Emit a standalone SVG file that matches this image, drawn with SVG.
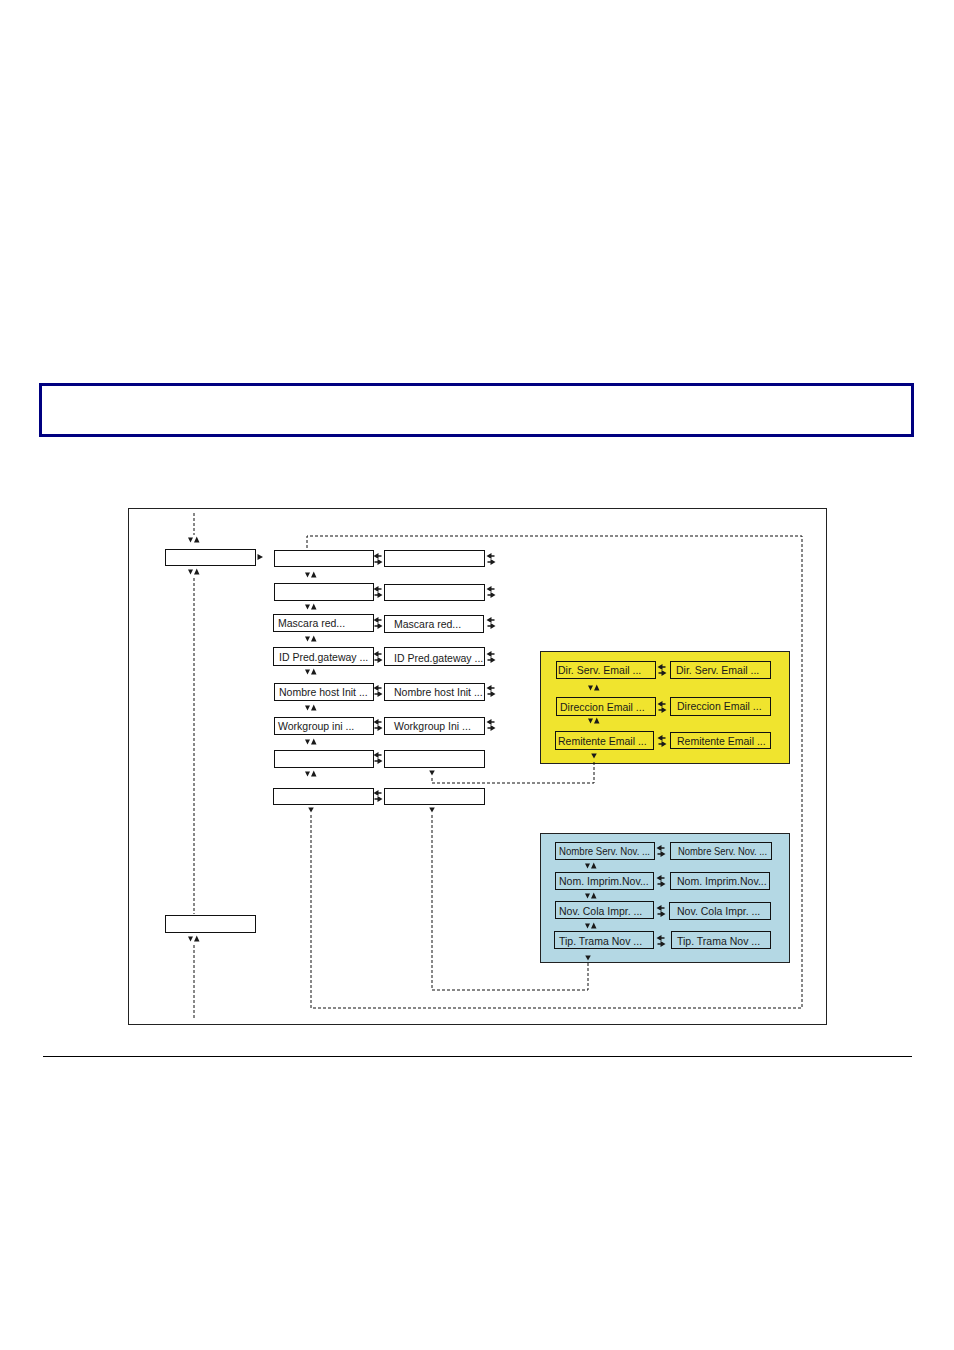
<svg xmlns="http://www.w3.org/2000/svg" xmlns:xlink="http://www.w3.org/1999/xlink" width="954" height="1350" viewBox="0 0 954 1350">
<style>
.box{fill:#fff;stroke:#111;stroke-width:1}
.ybox{fill:#f0e42e;stroke:#111;stroke-width:1}
.bbox{fill:#b4d8e4;stroke:#111;stroke-width:1}
.panel-y{fill:#f0e42e;stroke:#222;stroke-width:1}
.panel-b{fill:#b4d8e4;stroke:#222;stroke-width:1}
.t{font-family:"Liberation Sans",Arial,sans-serif;font-size:10.5px;fill:#1a1a1a}
.dash{fill:none;stroke:#111;stroke-width:1;stroke-dasharray:3,2}
.ah{fill:#1a1a1a}
.stem{stroke:#1a1a1a;stroke-width:1.5}
</style>
<defs>
<g id="vpair"><path class="ah" d="M-6,-2.5 h5 l-2.5,5 z M0,2.5 h5.5 l-2.75,-6 z"/></g>
<g id="hpair"><path class="ah" d="M-4.5,-3 L0.5,-6 L0.5,0 z M4.5,3 L-0.5,0 L-0.5,6 z"/><path class="stem" d="M0,-3 h3.5 M-3.5,3 h3.5"/></g>
<g id="down"><path class="ah" d="M-2.75,-2.5 h5.5 l-2.75,5 z"/></g>
<g id="right"><path class="ah" d="M-2.5,-3 L3,0 L-2.5,3 z"/></g>
</defs>

<rect id="header" x="40.5" y="384.5" width="872" height="51" fill="#fff" stroke="#000080" stroke-width="3"/>
<line x1="43" y1="1056.5" x2="912" y2="1056.5" stroke="#000" stroke-width="1"/>
<rect id="frame" x="128.5" y="508.5" width="698" height="516" fill="none" stroke="#222" stroke-width="1"/>

<g id="panels">
<rect class="panel-y" x="540.5" y="651.5" width="249" height="112"/>
<rect class="panel-b" x="540.5" y="833.5" width="249" height="129"/>
</g>

<g id="connectors">
<path class="dash" d="M194,513 V535"/>
<path class="dash" d="M194,578 V914"/>
<path class="dash" d="M194,945 V1020"/>
<path class="dash" d="M307,548 V536 H802 V1008 H311 V815"/>
<path class="dash" d="M432,778 V783 H594 V760"/>
<path class="dash" d="M432,815 V990 H588 V963"/>
<use xlink:href="#vpair" x="194" y="540"/>
<use xlink:href="#vpair" x="194" y="572"/>
<use xlink:href="#vpair" x="194" y="939"/>
<use xlink:href="#right" x="260" y="557"/>
<use xlink:href="#vpair" x="311" y="575"/>
<use xlink:href="#vpair" x="311" y="607"/>
<use xlink:href="#vpair" x="311" y="639"/>
<use xlink:href="#vpair" x="311" y="672"/>
<use xlink:href="#vpair" x="311" y="708"/>
<use xlink:href="#vpair" x="311" y="742"/>
<use xlink:href="#vpair" x="311" y="774"/>
<use xlink:href="#down" x="311" y="810"/>
<use xlink:href="#down" x="432" y="773"/>
<use xlink:href="#down" x="432" y="810"/>
<use xlink:href="#hpair" x="378" y="559"/>
<use xlink:href="#hpair" x="378" y="592"/>
<use xlink:href="#hpair" x="378" y="623"/>
<use xlink:href="#hpair" x="378" y="657"/>
<use xlink:href="#hpair" x="378" y="691"/>
<use xlink:href="#hpair" x="378" y="725"/>
<use xlink:href="#hpair" x="378" y="758"/>
<use xlink:href="#hpair" x="378" y="796"/>
<use xlink:href="#hpair" x="491" y="559"/>
<use xlink:href="#hpair" x="491" y="592"/>
<use xlink:href="#hpair" x="491" y="623"/>
<use xlink:href="#hpair" x="491" y="657"/>
<use xlink:href="#hpair" x="491" y="691"/>
<use xlink:href="#hpair" x="491" y="725"/>
<use xlink:href="#vpair" x="594" y="688"/>
<use xlink:href="#vpair" x="594" y="721"/>
<use xlink:href="#down" x="594" y="756"/>
<use xlink:href="#hpair" x="662" y="670"/>
<use xlink:href="#hpair" x="662" y="707"/>
<use xlink:href="#hpair" x="662" y="741"/>
<use xlink:href="#vpair" x="591" y="866"/>
<use xlink:href="#vpair" x="591" y="896"/>
<use xlink:href="#vpair" x="591" y="926"/>
<use xlink:href="#down" x="588" y="958"/>
<use xlink:href="#hpair" x="661" y="851"/>
<use xlink:href="#hpair" x="661" y="881"/>
<use xlink:href="#hpair" x="661" y="911"/>
<use xlink:href="#hpair" x="661" y="941"/>
</g>

<g id="nodeA"><rect class="box" x="165.5" y="549.5" width="90" height="16"/></g>
<g id="nodeB"><rect class="box" x="165.5" y="915.5" width="90" height="17"/></g>

<g id="c1r1"><rect class="box" x="274.5" y="550.5" width="99" height="16"/></g>
<g id="c2r1"><rect class="box" x="384.5" y="550.5" width="100" height="16"/></g>
<g id="c1r2"><rect class="box" x="274.5" y="583.5" width="99" height="17"/></g>
<g id="c2r2"><rect class="box" x="384.5" y="584.5" width="100" height="16"/></g>
<g id="c1r3"><rect class="box" x="273.5" y="614.5" width="100" height="17"/><text class="t" x="278" y="627">Mascara red...</text></g>
<g id="c2r3"><rect class="box" x="384.5" y="615.5" width="99" height="17"/><text class="t" x="394" y="628">Mascara red...</text></g>
<g id="c1r4"><rect class="box" x="273.5" y="647.5" width="100" height="18"/><text class="t" x="279" y="661">ID Pred.gateway ...</text></g>
<g id="c2r4"><rect class="box" x="384.5" y="647.5" width="100" height="18"/><text class="t" x="394" y="662">ID Pred.gateway ...</text></g>
<g id="c1r5"><rect class="box" x="274.5" y="683.5" width="99" height="17"/><text class="t" x="279" y="696">Nombre host Init ...</text></g>
<g id="c2r5"><rect class="box" x="384.5" y="683.5" width="100" height="17"/><text class="t" x="394" y="696">Nombre host Init ...</text></g>
<g id="c1r6"><rect class="box" x="274.5" y="717.5" width="99" height="17"/><text class="t" x="278" y="730">Workgroup ini ...</text></g>
<g id="c2r6"><rect class="box" x="384.5" y="717.5" width="100" height="17"/><text class="t" x="394" y="730">Workgroup Ini ...</text></g>
<g id="c1r7"><rect class="box" x="274.5" y="750.5" width="99" height="17"/></g>
<g id="c2r7"><rect class="box" x="384.5" y="750.5" width="100" height="17"/></g>
<g id="c1r8"><rect class="box" x="273.5" y="788.5" width="100" height="16"/></g>
<g id="c2r8"><rect class="box" x="384.5" y="788.5" width="100" height="16"/></g>

<g id="y1l"><rect class="ybox" x="556.5" y="661.5" width="99" height="17"/><text class="t" x="558" y="674">Dir. Serv. Email ...</text></g>
<g id="y1r"><rect class="ybox" x="670.5" y="661.5" width="100" height="17"/><text class="t" x="676" y="674">Dir. Serv. Email ...</text></g>
<g id="y2l"><rect class="ybox" x="556.5" y="697.5" width="99" height="18"/><text class="t" x="560" y="711">Direccion Email ...</text></g>
<g id="y2r"><rect class="ybox" x="670.5" y="697.5" width="100" height="18"/><text class="t" x="677" y="710">Direccion Email ...</text></g>
<g id="y3l"><rect class="ybox" x="555.5" y="731.5" width="98" height="18"/><text class="t" x="558" y="745">Remitente Email ...</text></g>
<g id="y3r"><rect class="ybox" x="670.5" y="732.5" width="100" height="16"/><text class="t" x="677" y="745">Remitente Email ...</text></g>

<g id="b1l"><rect class="bbox" x="555.5" y="842.5" width="99" height="17"/><text class="t" x="559" y="855" textLength="91" lengthAdjust="spacingAndGlyphs">Nombre Serv. Nov. ...</text></g>
<g id="b1r"><rect class="bbox" x="670.5" y="842.5" width="101" height="17"/><text class="t" x="678" y="855" textLength="89" lengthAdjust="spacingAndGlyphs">Nombre Serv. Nov. ...</text></g>
<g id="b2l"><rect class="bbox" x="555.5" y="872.5" width="98" height="17"/><text class="t" x="559" y="885">Nom. Imprim.Nov...</text></g>
<g id="b2r"><rect class="bbox" x="670.5" y="872.5" width="99" height="17"/><text class="t" x="677" y="885">Nom. Imprim.Nov...</text></g>
<g id="b3l"><rect class="bbox" x="555.5" y="901.5" width="98" height="17"/><text class="t" x="559" y="915">Nov. Cola Impr. ...</text></g>
<g id="b3r"><rect class="bbox" x="669.5" y="902.5" width="101" height="17"/><text class="t" x="677" y="915">Nov. Cola Impr. ...</text></g>
<g id="b4l"><rect class="bbox" x="554.5" y="931.5" width="99" height="17"/><text class="t" x="559" y="945">Tip. Trama Nov ...</text></g>
<g id="b4r"><rect class="bbox" x="671.5" y="931.5" width="99" height="17"/><text class="t" x="677" y="945">Tip. Trama Nov ...</text></g>
</svg>
